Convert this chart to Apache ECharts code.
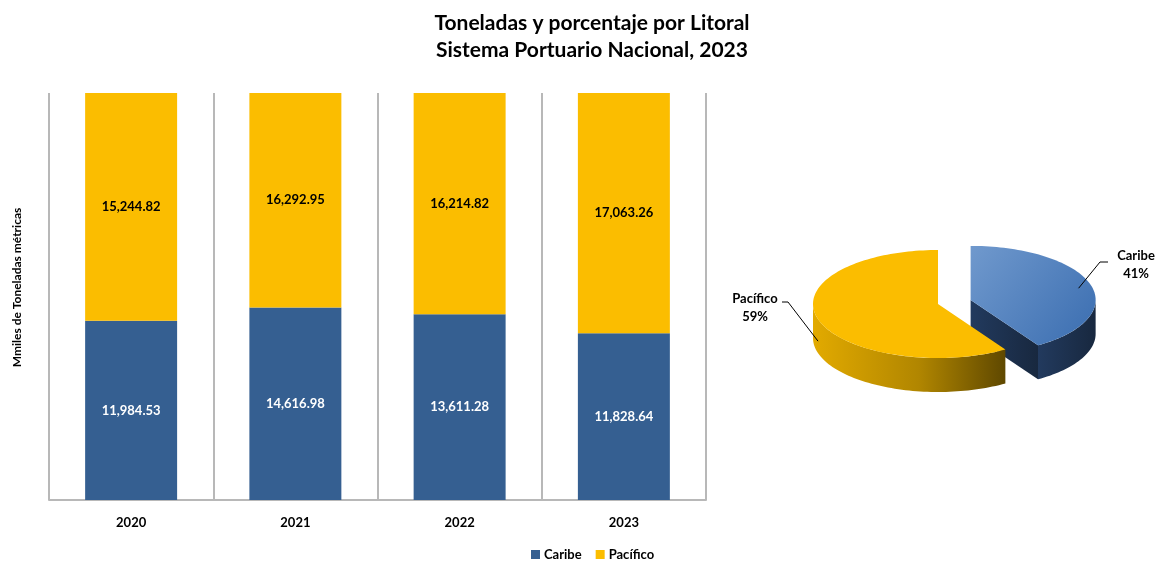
<!DOCTYPE html>
<html>
<head>
<meta charset="utf-8">
<script src="https://cdn.jsdelivr.net/npm/echarts@6/dist/echarts.min.js"></script>
<style>
html,body{margin:0;padding:0;background:#fff;}
#chart{width:1156px;height:561px;}
</style>
</head>
<body>
<div id="chart"></div>
<script>
// ---- data ----
const years = ['2020', '2021', '2022', '2023'];
const caribe = [11984.53, 14616.98, 13611.28, 11828.64];
const pacifico = [15244.82, 16292.95, 16214.82, 17063.26];
const pieNames = ['Caribe', 'Pacífico'];
const pieValues = [11828.64, 17063.26];

// ---- derived (100% stacked shares) ----
const totals = years.map((_, i) => caribe[i] + pacifico[i]);
const caribePct = caribe.map((v, i) => v / totals[i] * 100);
const pacificoPct = pacifico.map((v, i) => v / totals[i] * 100);
const fmt = v => v.toLocaleString('en-US', {minimumFractionDigits: 2, maximumFractionDigits: 2});

const FONT = 'Lato, "Open Sans", sans-serif';
const BLUE = '#355f91';
const GOLD = '#fbbd00';

// ---- pseudo-3D pie layout (styling, not data) ----
const PIE = {cx: 938, cy: 304, rx: 125, ry: 54, depth: 34, explode: [34, 0]};
const pieStyle = [
  {top: {type: 'linear', x: 0, y: 0, x2: 1, y2: 1, colorStops: [{offset: 0, color: '#7099cd'}, {offset: 1, color: '#3a6db0'}]},
   wall: {type: 'linear', x: 0, y: 0, x2: 1, y2: 0, colorStops: [{offset: 0, color: '#223a5e'}, {offset: 1, color: '#18283f'}]},
   label: {anchorR: 0.9, anchorDy: 2, elbow: [1100, 262], end: [1108, 262], text: [1136, 265]}},
  {top: GOLD,
   wall: {type: 'linear', x: 0, y: 0, x2: 1, y2: 0, colorStops: [{offset: 0, color: '#e2aa00'}, {offset: 0.55, color: '#b18600'}, {offset: 1, color: '#5f4800'}]},
   label: {anchorR: 1.0, anchorDy: 22, elbow: [788, 302], end: [782, 302], text: [755, 308]}}
];
const pieTotal = pieValues.reduce((a, b) => a + b, 0);

function renderPieSlice(params, api) {
  const i = params.dataIndex;
  let before = 0;
  for (let j = 0; j < i; j++) before += pieValues[j];
  const a0 = before / pieTotal * 2 * Math.PI;
  const a1 = (before + pieValues[i]) / pieTotal * 2 * Math.PI;
  const mid = (a0 + a1) / 2;
  const ex = PIE.explode[i];
  const cx = PIE.cx + ex * Math.sin(mid);
  const cy = PIE.cy - ex * Math.cos(mid) * PIE.ry / PIE.rx;
  const pt = (a, dy, r) => [cx + (r || 1) * PIE.rx * Math.sin(a), cy - (r || 1) * PIE.ry * Math.cos(a) + (dy || 0)];
  const arc = (s, e, dy) => {
    const n = Math.max(8, Math.ceil((e - s) / 0.03));
    const out = [];
    for (let k = 0; k <= n; k++) out.push(pt(s + (e - s) * k / n, dy));
    return out;
  };
  const st = pieStyle[i];
  const children = [];
  const lo = Math.max(a0, Math.PI / 2), hi = Math.min(a1, 3 * Math.PI / 2);
  if (lo < hi) {
    const topArc = arc(lo, hi, 0);
    const botArc = arc(lo, hi, PIE.depth).reverse();
    children.push({type: 'polygon', shape: {points: topArc.concat(botArc)}, style: {fill: st.wall}});
  }
  if (Math.sin(a1) > 0.01) {
    const r = pt(a1, 0);
    children.push({type: 'polygon', shape: {points: [[cx, cy], r, [r[0], r[1] + PIE.depth], [cx, cy + PIE.depth]]}, style: {fill: st.wall}});
  }
  if (Math.sin(a0) < -0.01) {
    const r = pt(a0, 0);
    children.push({type: 'polygon', shape: {points: [[cx, cy], r, [r[0], r[1] + PIE.depth], [cx, cy + PIE.depth]]}, style: {fill: st.wall}});
  }
  children.push({type: 'polygon', shape: {points: [[cx, cy]].concat(arc(a0, a1, 0))}, style: {fill: st.top}});
  const L = st.label;
  const anchor = pt(mid, L.anchorDy, L.anchorR);
  children.push({type: 'polyline', shape: {points: [anchor, L.elbow, L.end]}, style: {stroke: '#000', lineWidth: 1, fill: null}});
  const pct = Math.round(pieValues[i] / pieTotal * 100);
  children.push({type: 'text', style: {text: pieNames[i] + '\n' + pct + '%', x: L.text[0], y: L.text[1], textAlign: 'center', textVerticalAlign: 'middle', font: 'bold 13px ' + FONT, fill: '#000', lineHeight: 18}});
  return {type: 'group', children: children};
}

const chart = echarts.init(document.getElementById('chart'), null, {renderer: 'canvas'});
chart.setOption({
  backgroundColor: '#fff',
  animation: false,
  title: {
    text: 'Toneladas y porcentaje por Litoral\nSistema Portuario Nacional, 2023',
    left: 587, top: 5, textAlign: 'center',
    textStyle: {fontFamily: FONT, fontWeight: 'bold', fontSize: 21, color: '#000', lineHeight: 27}
  },
  legend: {
    data: ['Caribe', 'Pacífico'],
    left: 526, top: 543,
    icon: 'rect', itemWidth: 9, itemHeight: 9, itemGap: 14,
    textStyle: {fontFamily: FONT, fontWeight: 'bold', fontSize: 13, color: '#000', padding: [0, 0, 0, -1]}
  },
  grid: {left: 49, right: 450, top: 93, bottom: 61, containLabel: false, outerBoundsMode: 'none'},
  xAxis: {
    type: 'category', data: years,
    axisLine: {show: true, lineStyle: {color: '#b8b8b8', width: 2}},
    axisTick: {show: false},
    axisLabel: {fontFamily: FONT, fontWeight: 'bold', fontSize: 13, color: '#000', margin: 16},
    splitLine: {show: true, lineStyle: {color: '#b8b8b8', width: 2}}
  },
  yAxis: {
    type: 'value', min: 0, max: 100,
    name: 'Mmiles de Toneladas métricas', nameLocation: 'middle', nameGap: 26, nameRotate: 90,
    nameTextStyle: {fontFamily: FONT, fontWeight: 'bold', fontSize: 12, color: '#000', padding: [0, 0, 0, 18]},
    axisLine: {show: false}, axisTick: {show: false}, axisLabel: {show: false}, splitLine: {show: false}
  },
  series: [
    {
      name: 'Caribe', type: 'bar', stack: 'total', barWidth: '56%',
      data: caribePct,
      itemStyle: {color: BLUE},
      label: {show: true, position: 'inside', formatter: p => fmt(caribe[p.dataIndex]),
        fontFamily: FONT, fontWeight: 'bold', fontSize: 13, color: '#fff'}
    },
    {
      name: 'Pacífico', type: 'bar', stack: 'total', barWidth: '56%',
      data: pacificoPct,
      itemStyle: {color: GOLD},
      label: {show: true, position: 'inside', formatter: p => fmt(pacifico[p.dataIndex]),
        fontFamily: FONT, fontWeight: 'bold', fontSize: 13, color: '#000'}
    },
    {
      name: 'Litoral 2023', type: 'custom', coordinateSystem: 'none',
      data: pieValues.map(v => [v]),
      renderItem: renderPieSlice,
      silent: true
    }
  ]
});
</script>
</body>
</html>
